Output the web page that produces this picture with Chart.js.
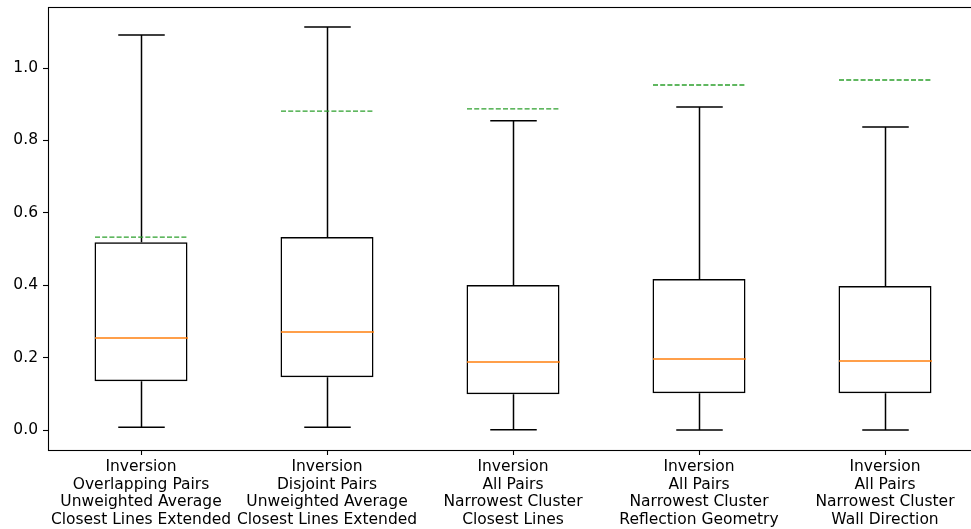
<!DOCTYPE html>
<html>
<head>
<meta charset="utf-8">
<script src="https://cdn.jsdelivr.net/npm/chart.js@4/dist/chart.umd.min.js"></script>
<style>
html,body{margin:0;padding:0;background:#fff;overflow:hidden;}
#wrap{width:980px;height:529px;position:relative;}
</style>
</head>
<body>
<div id="wrap"><canvas id="c"></canvas></div>
<script>
const categories = [
  ["Inversion","Overlapping Pairs","Unweighted Average","Closest Lines Extended"],
  ["Inversion","Disjoint Pairs","Unweighted Average","Closest Lines Extended"],
  ["Inversion","All Pairs","Narrowest Cluster","Closest Lines"],
  ["Inversion","All Pairs","Narrowest Cluster","Reflection Geometry"],
  ["Inversion","All Pairs","Narrowest Cluster","Wall Direction"]
];
const whiskerLow  = [0.008, 0.008, 0.001, 0.000, 0.000];
const q1          = [0.135, 0.146, 0.099, 0.102, 0.102];
const medians     = [0.254, 0.271, 0.188, 0.196, 0.191];
const q3          = [0.519, 0.533, 0.401, 0.417, 0.398];
const whiskerHigh = [1.091, 1.113, 0.854, 0.892, 0.837];
const means       = [0.533, 0.881, 0.887, 0.953, 0.967];
const yTicks      = [0.0, 0.2, 0.4, 0.6, 0.8, 1.0];

const boxPlugin = {
  id: 'boxParts',
  afterDatasetsDraw(chart) {
    const ctx = chart.ctx, xs = chart.scales.x, ys = chart.scales.y;
    const catW = xs.width / categories.length;
    const boxW = catW * 0.5, capW = catW * 0.25;
    ctx.save();
    ctx.lineCap = 'butt';
    for (let i = 0; i < categories.length; i++) {
      const cx = Math.round(xs.getPixelForValue(i)) + 0.5;
      ctx.strokeStyle = '#000'; ctx.lineWidth = 1.5; ctx.setLineDash([]);
      ctx.beginPath();
      ctx.moveTo(cx, ys.getPixelForValue(q3[i])); ctx.lineTo(cx, ys.getPixelForValue(whiskerHigh[i]));
      ctx.moveTo(cx, ys.getPixelForValue(q1[i])); ctx.lineTo(cx, ys.getPixelForValue(whiskerLow[i]));
      ctx.stroke();
      ctx.beginPath();
      let yh = ys.getPixelForValue(whiskerHigh[i]), yl = ys.getPixelForValue(whiskerLow[i]);
      ctx.moveTo(cx - capW/2, yh); ctx.lineTo(cx + capW/2, yh);
      ctx.moveTo(cx - capW/2, yl); ctx.lineTo(cx + capW/2, yl);
      ctx.stroke();
      ctx.strokeStyle = '#ff7f0e'; ctx.lineWidth = 1.5;
      ctx.beginPath();
      let ym = ys.getPixelForValue(medians[i]);
      ctx.moveTo(cx - boxW/2, ym); ctx.lineTo(cx + boxW/2, ym);
      ctx.stroke();
      ctx.strokeStyle = '#2ca02c'; ctx.lineWidth = 1.4; ctx.setLineDash([5, 2.2]);
      ctx.beginPath();
      let ymn = ys.getPixelForValue(means[i]);
      ctx.moveTo(cx - boxW/2, ymn); ctx.lineTo(cx + boxW/2, ymn);
      ctx.stroke();
    }
    const a = chart.chartArea;
    ctx.setLineDash([]);
    ctx.strokeStyle = '#000'; ctx.lineWidth = 1.1;
    ctx.strokeRect(Math.round(a.left)+0.5, Math.round(a.top)+0.5, Math.round(a.right-a.left), Math.round(a.bottom-a.top));
    ctx.restore();
  }
};

new Chart(document.getElementById('c'), {
  type: 'bar',
  data: {
    labels: categories,
    datasets: [{
      data: q1.map((v, i) => [v, q3[i]]),
      backgroundColor: 'rgba(255,255,255,0)',
      borderColor: '#000',
      borderWidth: 1.5,
      borderSkipped: false,
      barPercentage: 0.5,
      categoryPercentage: 1.0
    }]
  },
  options: {
    responsive: true,
    maintainAspectRatio: false,
    animation: false,
    layout: { padding: { top: 7, right: 2, left: 0, bottom: 0 } },
    plugins: { legend: { display: false }, tooltip: { enabled: false } },
    scales: {
      x: {
        offset: true,
        grid: { display: true, drawOnChartArea: false, tickLength: 5, color: '#000', tickWidth: 1.1, offset: false },
        border: { display: false },
        ticks: {
          color: '#000',
          font: { family: 'DejaVu Sans', size: 15.5, lineHeight: 1.14 },
          padding: 3,
          maxRotation: 0, autoSkip: false
        },
        afterFit(s) { s.height = 79; s.paddingLeft = 0; s.paddingRight = 0; }
      },
      y: {
        min: -0.055,
        max: 1.1685,
        grid: { display: true, drawOnChartArea: false, tickLength: 5, color: '#000', tickWidth: 1.1 },
        border: { display: false },
        afterBuildTicks(s) { s.ticks = yTicks.map(v => ({ value: v })); },
        ticks: {
          color: '#000',
          font: { family: 'DejaVu Sans', size: 15.5 },
          padding: 5,
          callback: v => Number(v).toFixed(1)
        },
        afterFit(s) { s.width = 48; s.paddingTop = 0; s.paddingBottom = 0; }
      }
    }
  },
  plugins: [boxPlugin]
});
</script>
</body>
</html>
